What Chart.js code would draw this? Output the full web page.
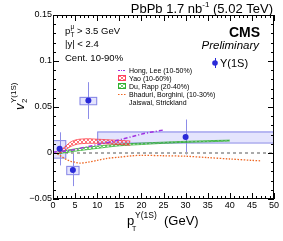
<!DOCTYPE html>
<html>
<head>
<meta charset="utf-8">
<script src="https://cdn.jsdelivr.net/npm/chart.js@4.4.0/dist/chart.umd.min.js"></script>
<style>
  html, body { margin: 0; padding: 0; background: #fff; }
</style>
</head>
<body>
<canvas id="myChart" width="283" height="241"></canvas>
<script>
// measured points (Upsilon(1S))
const ptVals = [1.5, 4.5, 8, 30];
const v2Vals = [0.0045, -0.0185, 0.057, 0.0174];
const statErr = [0.018, 0.0175, 0.02, 0.019];
const systErr = [0.0095, 0.0045, 0.004, 0.006];
const binLo = [0, 3, 6, 10];
const binHi = [3, 6, 10, 50];

// models
const hongPt = [0, 2, 4, 6, 8, 10, 12, 14, 16, 18, 20, 22, 25];
const hongV2 = [0.001, 0.002, 0.003, 0.005, 0.007, 0.009, 0.011, 0.013, 0.0155, 0.018, 0.0205, 0.0225, 0.025];
const yaoPt = [1, 2, 3, 4, 5, 6, 8, 10, 12, 14, 16, 17.5];
const yaoLo = [-0.001, 0.001, 0.004, 0.007, 0.009, 0.010, 0.0105, 0.0105, 0.010, 0.0095, 0.009, 0.0085];
const yaoHi = [0.001, 0.004, 0.008, 0.012, 0.014, 0.015, 0.0155, 0.015, 0.0145, 0.014, 0.0135, 0.013];
const duPt = [1, 5, 10, 15, 20, 25, 30, 35, 40];
const duLo = [-0.001, 0.002, 0.005, 0.0078, 0.0092, 0.0105, 0.0115, 0.0122, 0.013];
const duHi = [0.001, 0.0045, 0.0075, 0.0095, 0.0108, 0.0118, 0.0127, 0.0134, 0.014];
const bhaPt = [1, 2, 3, 4, 5, 6, 8, 10, 12, 15, 18, 20, 25, 30, 35, 40, 45, 47];
const bhaV2 = [-0.001, -0.004, -0.007, -0.009, -0.010, -0.011, -0.010, -0.008, -0.006, -0.0045, -0.003, -0.0025, -0.003, -0.0035, -0.005, -0.0065, -0.008, -0.0085];
const jaiPt = [0, 50];
const jaiV2 = [0, 0];

const xTickLabels = ['0', '5', '10', '15', '20', '25', '30', '35', '40', '45', '50'];
const yTickLabels = ['\u22120.05', '0', '0.05', '0.1', '0.15'];
const legendNames = ['Hong, Lee (10-50%)', 'Yao (10-60%)', 'Du, Rapp (20-40%)', 'Bhaduri, Borghini, (10-30%)', 'Jaiswal, Strickland'];

const FONT = 'Liberation Sans, Arial, sans-serif';
const pts = (xs, ys) => xs.map((x, i) => ({x: x, y: ys[i]}));

function hatch(color) {
  const c = document.createElement('canvas');
  c.width = 4; c.height = 4;
  const g = c.getContext('2d');
  g.strokeStyle = color;
  g.lineWidth = 0.8;
  g.beginPath();
  g.moveTo(0, 4); g.lineTo(4, 0);
  g.moveTo(0, 0); g.lineTo(4, 4);
  g.stroke();
  return g.createPattern(c, 'repeat');
}
const redHatch = hatch('rgba(255,50,60,0.85)');
const greenHatch = hatch('rgba(40,180,40,0.8)');

const ctx = document.getElementById('myChart');

const extras = {
  id: 'extras',
  beforeDatasetsDraw(chart) {
    const c = chart.ctx, xs = chart.scales.x, ys = chart.scales.y;
    c.save();
    // syst boxes
    ptVals.forEach((p, i) => {
      const x0 = xs.getPixelForValue(binLo[i]), x1 = xs.getPixelForValue(binHi[i]);
      const y0 = ys.getPixelForValue(v2Vals[i] + systErr[i]), y1 = ys.getPixelForValue(v2Vals[i] - systErr[i]);
      c.fillStyle = 'rgba(120,120,245,0.2)';
      c.fillRect(x0, y0, x1 - x0, y1 - y0);
      c.strokeStyle = '#8585e6';
      c.lineWidth = 1;
      c.strokeRect(x0 + 0.5, y0 + 0.5, x1 - x0 - 1, y1 - y0);
    });
    // stat bars
    c.strokeStyle = '#8c8ce8';
    c.lineWidth = 1;
    ptVals.forEach((p, i) => {
      const x = Math.round(xs.getPixelForValue(p)) + 0.5;
      c.beginPath();
      c.moveTo(x, ys.getPixelForValue(v2Vals[i] + statErr[i]));
      c.lineTo(x, ys.getPixelForValue(v2Vals[i] - statErr[i]));
      c.stroke();
    });
    c.restore();
  },
  afterDraw(chart) {
    const c = chart.ctx, xs = chart.scales.x, ys = chart.scales.y;
    const a = chart.chartArea;
    c.save();
    // frame and ticks
    c.strokeStyle = '#000';
    c.lineWidth = 1;
    c.strokeRect(a.left + 0.5, a.top + 0.5, a.right - a.left - 1, a.bottom - a.top - 1);
    c.beginPath();
    for (let v = 0; v <= 50; v += 1) {
      const x = Math.round(xs.getPixelForValue(v)) + 0.5;
      const len = v % 5 === 0 ? 6 : 3;
      c.moveTo(x, a.bottom); c.lineTo(x, a.bottom - len);
      c.moveTo(x, a.top); c.lineTo(x, a.top + len);
    }
    for (let k = -5; k <= 15; k += 1) {
      const y = Math.round(ys.getPixelForValue(k / 100)) + 0.5;
      const len = k % 5 === 0 ? 6 : 3;
      c.moveTo(a.left, y); c.lineTo(a.left + len, y);
      c.moveTo(a.right, y); c.lineTo(a.right - len, y);
    }
    c.stroke();

    c.fillStyle = '#000';
    c.textBaseline = 'alphabetic';
    // top title
    c.font = '13px ' + FONT;
    c.textAlign = 'left';
    const t1 = 'PbPb 1.7 nb', t2 = '-1', t3 = ' (5.02 TeV)';
    const w1 = c.measureText(t1).width, w3 = c.measureText(t3).width;
    c.font = '8px ' + FONT;
    const w2 = c.measureText(t2).width;
    let tx = 273 - (w1 + w2 + w3);
    c.font = '13px ' + FONT;
    c.fillText(t1, tx, 13);
    c.font = '8px ' + FONT;
    c.fillText(t2, tx + w1, 7);
    c.font = '13px ' + FONT;
    c.fillText(t3, tx + w1 + w2, 13);

    // selection text
    c.font = '9.5px ' + FONT;
    c.fillText('p', 65, 34);
    c.font = '6.5px ' + FONT;
    c.fillText('T', 70.5, 37);
    c.fillText('\u03bc', 70.5, 29);
    c.font = '9.5px ' + FONT;
    c.fillText('> 3.5 GeV', 77, 34);
    c.fillText('|y| < 2.4', 65, 47);
    c.fillText('Cent. 10-90%', 65, 61);

    // CMS
    c.textAlign = 'right';
    c.font = 'bold 14px ' + FONT;
    c.fillText('CMS', 260, 37);
    c.font = 'italic 11.5px ' + FONT;
    c.fillText('Preliminary', 259, 49);

    // data legend
    c.fillStyle = '#2a2ad8';
    c.beginPath(); c.arc(215, 63, 2.8, 0, 2 * Math.PI); c.fill();
    c.strokeStyle = '#2a2ad8';
    c.beginPath(); c.moveTo(215.5, 58); c.lineTo(215.5, 68); c.stroke();
    c.fillStyle = '#000';
    c.textAlign = 'left';
    c.font = '11px ' + FONT;
    c.fillText('\u03a5(1S)', 220, 67);

    // model legend
    const rows = [70, 78, 86, 94, 102];
    c.font = '7px ' + FONT;
    legendNames.forEach((n, i) => c.fillText(n, 129, rows[i] + 2.5));
    c.lineWidth = 1;
    c.strokeStyle = '#a030e0'; c.setLineDash([2, 1, 1, 1]);
    c.beginPath(); c.moveTo(118, rows[0] + 0.5); c.lineTo(126, rows[0] + 0.5); c.stroke();
    c.setLineDash([]);
    c.fillStyle = redHatch; c.fillRect(118, rows[1] - 3, 8, 6);
    c.strokeStyle = '#ff4060'; c.strokeRect(118.5, rows[1] - 2.5, 7, 5);
    c.fillStyle = greenHatch; c.fillRect(118, rows[2] - 3, 8, 6);
    c.strokeStyle = '#30b030'; c.strokeRect(118.5, rows[2] - 2.5, 7, 5);
    c.strokeStyle = '#ee6622'; c.setLineDash([1.5, 1.5]); c.lineWidth = 1.2;
    c.beginPath(); c.moveTo(118, rows[3] + 0.5); c.lineTo(126, rows[3] + 0.5); c.stroke();
    c.setLineDash([]);
    c.fillStyle = '#000';

    // y title
    c.save();
    c.translate(24, 110);
    c.rotate(-Math.PI / 2);
    c.font = 'italic 13px ' + FONT;
    c.fillText('v', 0, 0);
    c.font = '8px ' + FONT;
    c.fillText('2', 7, 3);
    c.fillText('\u03a5(1S)', 7, -8);
    c.restore();

    // x title
    c.fillStyle = '#000';
    c.font = '13px ' + FONT;
    c.fillText('p', 127, 225);
    c.font = '7px ' + FONT;
    c.fillText('T', 132, 231);
    c.font = '8.5px ' + FONT;
    c.fillText('\u03a5(1S)', 135, 218);
    c.font = '13px ' + FONT;
    c.fillText('(GeV)', 164, 225);
    c.restore();
  }
};

new Chart(ctx, {
  type: 'line',
  data: {
    datasets: [
      {
        label: 'Upsilon(1S)',
        data: pts(ptVals, v2Vals),
        showLine: false,
        pointRadius: 3,
        pointBackgroundColor: '#2a2ad8',
        pointBorderColor: '#2a2ad8',
        pointBorderWidth: 0
      },
      {
        label: legendNames[0],
        data: pts(hongPt, hongV2),
        borderColor: '#a030e0',
        borderWidth: 1.5,
        borderDash: [4, 2, 1, 2],
        pointRadius: 0,
        tension: 0.3
      },
      {
        label: legendNames[3],
        data: pts(bhaPt, bhaV2),
        borderColor: '#ee6622',
        borderWidth: 1.3,
        borderDash: [1.5, 1.5],
        pointRadius: 0,
        tension: 0.3
      },
      {
        label: 'yaoHi',
        data: pts(yaoPt, yaoHi),
        borderColor: 'rgba(255,40,50,0.85)',
        borderWidth: 0.8,
        backgroundColor: redHatch,
        fill: '+1',
        pointRadius: 0,
        tension: 0.3
      },
      {
        label: 'yaoLo',
        data: pts(yaoPt, yaoLo),
        borderColor: 'rgba(255,40,50,0.85)',
        borderWidth: 0.8,
        pointRadius: 0,
        tension: 0.3
      },
      {
        label: 'duHi',
        data: pts(duPt, duHi),
        borderColor: 'rgba(30,170,30,0.9)',
        borderWidth: 0.8,
        backgroundColor: greenHatch,
        fill: '+1',
        pointRadius: 0,
        tension: 0.3
      },
      {
        label: 'duLo',
        data: pts(duPt, duLo),
        borderColor: 'rgba(30,170,30,0.9)',
        borderWidth: 0.8,
        pointRadius: 0,
        tension: 0.3
      },
      {
        label: legendNames[4],
        data: pts(jaiPt, jaiV2),
        borderColor: '#aaaaaa',
        borderWidth: 2,
        borderDash: [3, 3],
        pointRadius: 0
      }
    ]
  },
  options: {
    responsive: false,
    devicePixelRatio: 1,
    animation: false,
    layout: { padding: { top: 15, right: 9, left: 0, bottom: 0 } },
    plugins: { legend: { display: false }, tooltip: { enabled: false } },
    scales: {
      x: {
        type: 'linear',
        min: 0,
        max: 50,
        afterBuildTicks: s => { s.ticks = xTickLabels.map(t => ({value: +t})); },
        afterFit: s => { s.height = 42; },
        ticks: {
          callback: (v, i) => xTickLabels[i],
          color: '#000',
          font: { family: FONT, size: 9 },
          padding: 1,
          maxRotation: 0,
          autoSkip: false
        },
        grid: { display: false, drawTicks: false },
        border: { display: false }
      },
      y: {
        min: -0.05,
        max: 0.15,
        afterBuildTicks: s => { s.ticks = [-0.05, 0, 0.05, 0.1, 0.15].map(v => ({value: v})); },
        afterFit: s => { s.width = 53; },
        ticks: {
          callback: (v, i) => yTickLabels[i],
          color: '#000',
          font: { family: FONT, size: 9 },
          padding: 1,
          autoSkip: false
        },
        grid: { display: false, drawTicks: false },
        border: { display: false }
      }
    }
  },
  plugins: [extras]
});
</script>
</body>
</html>
